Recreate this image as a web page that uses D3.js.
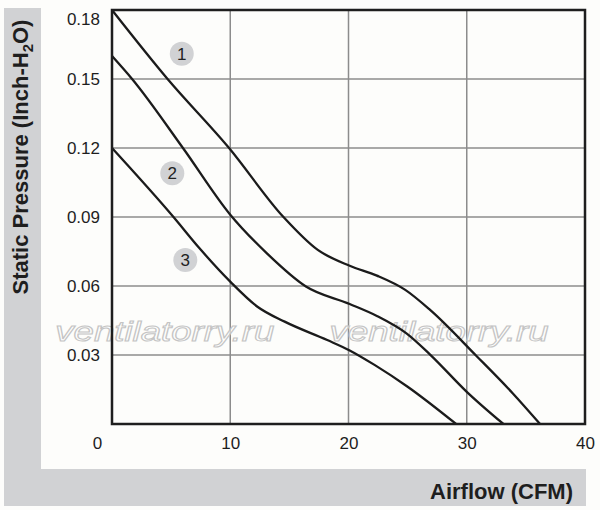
<!DOCTYPE html>
<html>
<head>
<meta charset="utf-8">
<script src="https://cdn.jsdelivr.net/npm/d3@7"></script>
<style>
  body { margin: 0; background: #fdfdfb; }
  svg { display: block; font-family: "Liberation Sans", Arial, sans-serif; }
</style>
</head>
<body>
<div class="chart"></div>
<script>
// fan curves: [airflow CFM, static pressure inch-H2O]
var curve1 = [[0, 0.18], [4.7, 0.15], [9.9, 0.12], [14.5, 0.09], [17.4, 0.0757], [20.1, 0.0688],
  [22.4, 0.0645], [24.8, 0.0583], [26.9, 0.0496], [30.8, 0.0297], [33.9, 0.0133], [36.2, 0]];
var curve2 = [[0, 0.16], [1.7, 0.15], [6.0, 0.12], [10.0, 0.091], [13.1, 0.0742], [16.4, 0.0598],
  [20.1, 0.0522], [22.4, 0.047], [24.9, 0.0394], [26.9, 0.0302], [30.0, 0.014], [33.1, 0]];
var curve3 = [[0, 0.12], [5.2, 0.09], [7.4, 0.0764], [10.0, 0.0619], [12.3, 0.051], [14.6, 0.0445],
  [18.2, 0.0365], [20.1, 0.032], [22.2, 0.0257], [25.0, 0.0162], [29.1, 0]];

// curve number badges
var badgeNames = ["1", "2", "3"];
var badgeX = [5.9, 5.1, 6.2];
var badgeY = [0.161, 0.109, 0.0713];

var xTicks = [0, 10, 20, 30, 40];
var yTicks = [0.03, 0.06, 0.09, 0.12, 0.15, 0.18];

var svgWidth = 600;
var svgHeight = 510;

var margin = { top: 10, right: 15, bottom: 86, left: 112 };
var width = svgWidth - margin.left - margin.right;
var height = svgHeight - margin.top - margin.bottom;

var svg = d3.select(".chart")
  .append("svg")
  .attr("width", svgWidth)
  .attr("height", svgHeight);

// gray L-shaped band behind the axis titles
svg.append("rect")
  .attr("x", 4).attr("y", 8)
  .attr("width", 37).attr("height", 498)
  .attr("fill", "#d1d2d4");
svg.append("rect")
  .attr("x", 4).attr("y", 469)
  .attr("width", 582).attr("height", 37)
  .attr("fill", "#d1d2d4");

var chartGroup = svg.append("g")
  .attr("transform", `translate(${margin.left}, ${margin.top})`);

var xScale = d3.scaleLinear().domain([0, 40]).range([0, width]);
var yScale = d3.scaleLinear().domain([0, 0.18]).range([height, 0]);

// grid
chartGroup.selectAll(".vgrid")
  .data(xTicks.slice(1, -1))
  .enter()
  .append("line")
  .attr("x1", d => xScale(d)).attr("x2", d => xScale(d))
  .attr("y1", 0).attr("y2", height)
  .attr("stroke", "#8c8c8c")
  .attr("stroke-width", 1.5);

chartGroup.selectAll(".hgrid")
  .data(yTicks.slice(0, -1))
  .enter()
  .append("line")
  .attr("x1", 0).attr("x2", width)
  .attr("y1", d => yScale(d)).attr("y2", d => yScale(d))
  .attr("stroke", "#8c8c8c")
  .attr("stroke-width", 1.5);

// watermark
var marks = [[-4.8, 0.0362], [18.4, 0.0362]];
chartGroup.selectAll(".mark")
  .data(marks)
  .enter()
  .append("text")
  .attr("x", d => xScale(d[0]))
  .attr("y", d => yScale(d[1]))
  .attr("font-size", 27)
  .attr("font-style", "italic")
  .attr("textLength", 219)
  .attr("lengthAdjust", "spacingAndGlyphs")
  .attr("fill", "#ffffff")
  .attr("fill-opacity", 0.6)
  .attr("stroke", "#c4c4c4")
  .attr("stroke-width", 1)
  .text("ventilatorry.ru");

// curves
var line = d3.line()
  .x(d => xScale(d[0]))
  .y(d => yScale(d[1]))
  .curve(d3.curveMonotoneX);

chartGroup.selectAll(".curve")
  .data([curve1, curve2, curve3])
  .enter()
  .append("path")
  .attr("d", line)
  .attr("fill", "none")
  .attr("stroke", "#1b1b1b")
  .attr("stroke-width", 2.3);

// frame
chartGroup.append("rect")
  .attr("x", 0).attr("y", 0)
  .attr("width", width).attr("height", height)
  .attr("fill", "none")
  .attr("stroke", "#1e1e1e")
  .attr("stroke-width", 2.5);

// badges
var badges = chartGroup.selectAll(".badge")
  .data(badgeNames)
  .enter()
  .append("g")
  .attr("transform", (d, i) => `translate(${xScale(badgeX[i])}, ${yScale(badgeY[i])})`);

badges.append("circle")
  .attr("r", 12)
  .attr("fill", "#d1d2d4");

badges.append("text")
  .attr("text-anchor", "middle")
  .attr("dy", "0.36em")
  .attr("font-size", 17)
  .attr("fill", "#222")
  .text(d => d);

// axes
var bottomAxis = d3.axisBottom(xScale)
  .tickValues(xTicks)
  .tickSize(0)
  .tickPadding(13);

var xAxis = chartGroup.append("g")
  .attr("transform", `translate(0, ${height})`)
  .call(bottomAxis);

var leftAxis = d3.axisLeft(yScale)
  .tickValues(yTicks)
  .tickFormat(d3.format(".2f"))
  .tickSize(0)
  .tickPadding(12);

var yAxis = chartGroup.append("g")
  .call(leftAxis);

[xAxis, yAxis].forEach(function(axis) {
  axis.select(".domain").remove();
  axis.selectAll("text")
    .attr("font-family", "Liberation Sans, Arial, sans-serif")
    .attr("font-size", 17)
    .attr("fill", "#1e1e1e");
});

// the zero label sits left of the corner, the top label is pushed down
xAxis.selectAll(".tick text").filter(d => d === 0).attr("x", -15);
yAxis.selectAll(".tick text").filter(d => d === 0.18).attr("dy", "0.88em");

// axis titles
svg.append("text")
  .attr("x", 573)
  .attr("y", 499)
  .attr("text-anchor", "end")
  .attr("font-size", 22)
  .attr("font-weight", "bold")
  .attr("fill", "#1e1e1e")
  .text("Airflow (CFM)");

var yTitle = svg.append("text")
  .attr("transform", "translate(28, 157) rotate(-90)")
  .attr("text-anchor", "middle")
  .attr("font-size", 22)
  .attr("font-weight", "bold")
  .attr("fill", "#1e1e1e");

yTitle.append("tspan").text("Static Pressure (Inch-H");
yTitle.append("tspan").attr("font-size", 15).attr("dy", 5).text("2");
yTitle.append("tspan").attr("dy", -5).text("O)");
</script>
</body>
</html>
